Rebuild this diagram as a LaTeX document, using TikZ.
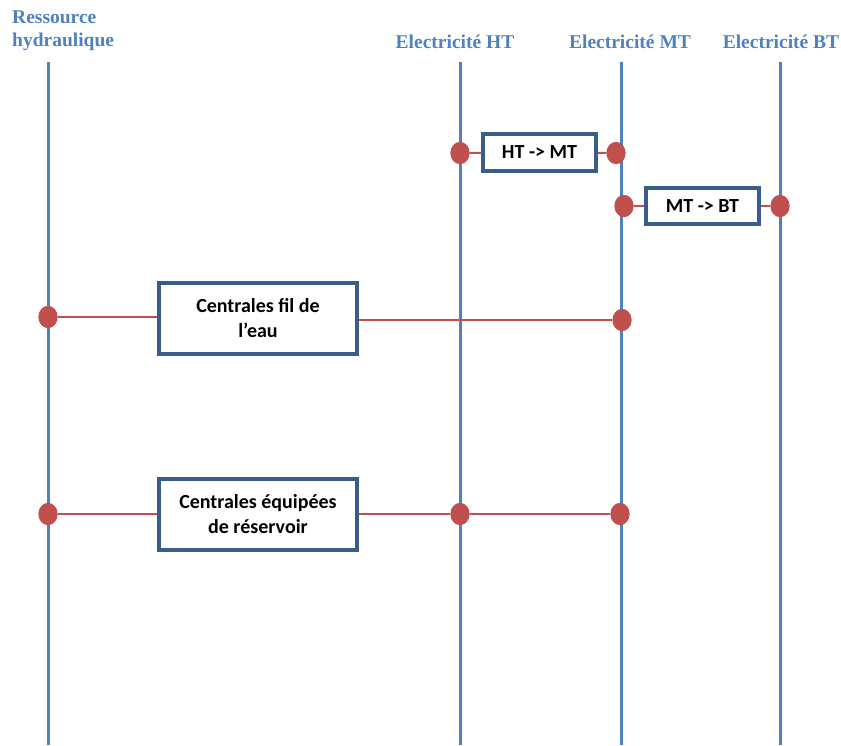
\documentclass[tikz,border=0pt]{standalone}
\usepackage{fontspec}
\setmainfont{Liberation Serif}
\newfontfamily\boxfont{Carlito}
\usetikzlibrary{shapes.geometric}
\definecolor{lineblue}{RGB}{79,129,189}
\definecolor{boxblue}{RGB}{56,93,138}
\definecolor{dotred}{RGB}{192,80,77}
\tikzset{
  x=1pt, y=-1pt,
  lane/.style={draw=lineblue, line width=3pt},
  lanelabel/.style={text=lineblue, font=\fontsize{19.5}{23}\selectfont\bfseries, inner sep=0pt},
  dot/.style={ellipse, fill=dotred, draw=none, minimum width=19pt, minimum height=22pt, inner sep=0pt},
  link/.style={draw=dotred, line width=2pt},
  procbox/.style={draw=boxblue, line width=3.5pt, fill=white, font=\boxfont\fontsize{20}{25}\selectfont\bfseries, align=center, inner sep=0pt},
}
\begin{document}
\begin{tikzpicture}
\useasboundingbox (0,0) rectangle (841,745);
% lanes
\coordinate (rt) at (48,62);  \coordinate (rb) at (48,745);
\coordinate (ht) at (460,62); \coordinate (hb) at (460,745);
\coordinate (mt) at (621,62); \coordinate (mb) at (621,745);
\coordinate (bt) at (780,62); \coordinate (bb) at (780,745);
\draw[lane] (rt) -- (rb);
\draw[lane] (ht) -- (hb);
\draw[lane] (mt) -- (mb);
\draw[lane] (bt) -- (bb);
% labels
\node[lanelabel, anchor=west, align=left] (lres) at (12,31) {Ressource\\hydraulique};
\node[lanelabel] (lht) at (455,42) {Electricité HT};
\node[lanelabel] (lmt) at (630,42) {Electricité MT};
\node[lanelabel] (lbt) at (781,42) {Electricité BT};
% boxes
\node[procbox, minimum width=113pt, minimum height=37pt] (hm) at (539.5,152.5) {HT -> MT};
\node[procbox, minimum width=113pt, minimum height=36pt] (mbx) at (702.5,206) {MT -> BT};
\node[procbox, minimum width=198pt, minimum height=71pt] (fil) at (258,318.5) {Centrales fil de\\l’eau};
\node[procbox, minimum width=198pt, minimum height=71pt] (res) at (258,514.5) {Centrales équipées\\de réservoir};
% dots
\node[dot] (d1) at (460,153) {};
\node[dot] (d2) at (616,153) {};
\node[dot] (d3) at (624,206) {};
\node[dot] (d4) at (780,206) {};
\node[dot] (d5) at (48,317) {};
\node[dot] (d6) at (622,320) {};
\node[dot] (d7) at (48,514) {};
\node[dot] (d8) at (460,514) {};
\node[dot] (d9) at (620,514) {};
% links
\draw[link] (d1) -- (hm);
\draw[link] (hm) -- (d2);
\draw[link] (d3) -- (mbx);
\draw[link] (mbx) -- (d4);
\draw[link] (d5) -- (d5 -| fil.west);
\draw[link] (d6 -| fil.east) -- (d6);
\draw[link] (d7) -- (d7 -| res.west);
\draw[link] (res.east |- d8) -- (d8);
\draw[link] (d8) -- (d9);
% redraw dots on top
\foreach \d in {d1,d2,d3,d4,d5,d6,d7,d8,d9} \fill[dotred] (\d.center) ellipse (9.5pt and 11pt);
\end{tikzpicture}
\end{document}
